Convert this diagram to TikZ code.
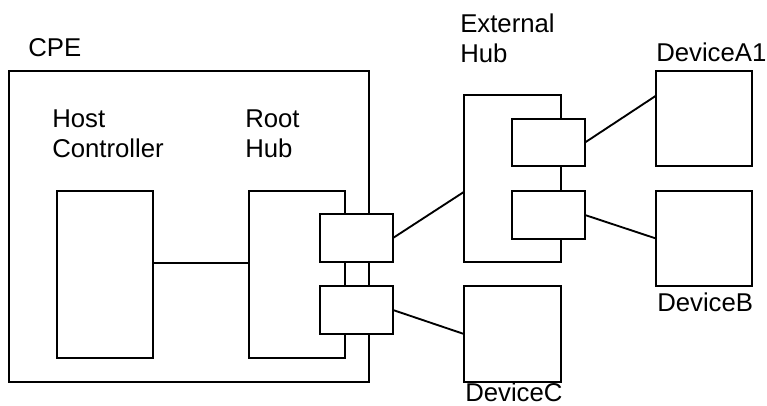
\documentclass[tikz,border=0pt]{standalone}
\usepackage{fontspec}
\setmainfont{Liberation Sans}
\usetikzlibrary{fit,calc}
\begin{document}
\begin{tikzpicture}[x=0.75pt,y=-0.75pt,
  box/.style={draw=black,fill=white,line width=1.4pt,inner sep=0pt,outer sep=0pt},
  lbl/.style={anchor=base west,inner sep=0pt,font=\fontsize{19.3pt}{22.5pt}\selectfont},
  wire/.style={draw=black,line width=1.4pt}]
\useasboundingbox (0,0) rectangle (767,406);
% boxes
\node[box,fit={(9,71)(369,382)}] (cpe) {};
\node[box,fit={(57,191)(153,358)}] (hc) {};
\node[box,fit={(249,191)(345,358)}] (rh) {};
\node[box,fit={(320,214)(393,262)}] (rp1) {};
\node[box,fit={(320,286)(393,334)}] (rp2) {};
\node[box,fit={(464,95)(561,262)}] (ehub) {};
\node[box,fit={(512,119)(585,166)}] (ep1) {};
\node[box,fit={(512,191)(585,239)}] (ep2) {};
\node[box,fit={(656,71)(752,166)}] (devA) {};
\node[box,fit={(656,191)(752,286)}] (devB) {};
\node[box,fit={(464,286)(561,382)}] (devC) {};
% labels
\node[lbl] (tcpe) at (28,57) {CPE};
\node[lbl] (thc1) at (52,128) {Host};
\node[lbl] (thc2) at (52,158) {Controller};
\node[lbl] (trh1) at (245,128) {Root};
\node[lbl] (trh2) at (245,158) {Hub};
\node[lbl] (teh1) at (460,33) {External};
\node[lbl] (teh2) at (460,63) {Hub};
\node[lbl] (tda) at (656,62) {DeviceA1};
\node[lbl] (tdb) at (657,311) {DeviceB};
\node[lbl] (tdc) at (465,401) {DeviceC};
% connectors
\coordinate (hcc) at ($(hc.north east)!0.43!(hc.south east)$);
\draw[wire] (hcc) -- (rh.west |- hcc);
\draw[wire] (rp1.east) -- ($(ehub.north west)!0.58!(ehub.south west)$);
\draw[wire] (rp2.east) -- (devC.west);
\draw[wire] (ep1.east) -- ($(devA.north west)!0.26!(devA.south west)$);
\draw[wire] (ep2.east) -- (devB.west);
\end{tikzpicture}
\end{document}
